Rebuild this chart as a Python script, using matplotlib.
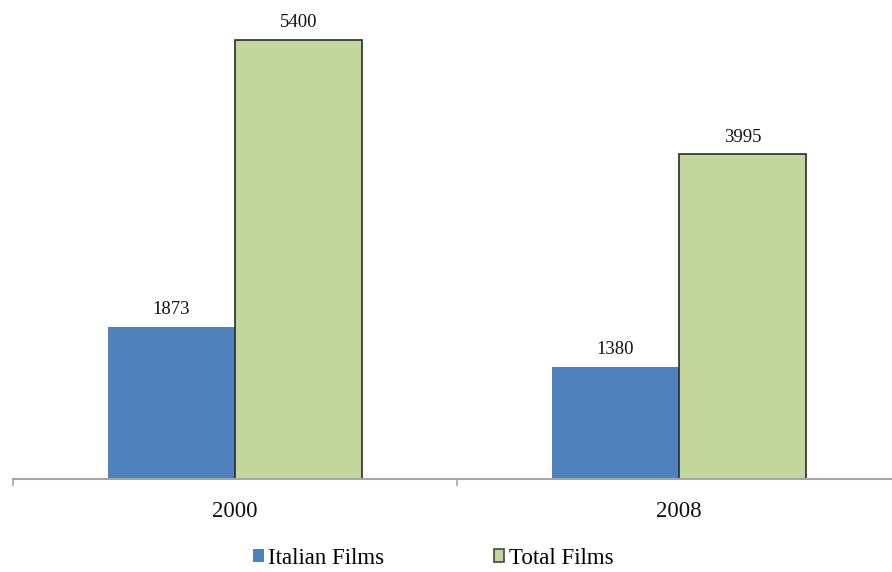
import matplotlib.pyplot as plt
from matplotlib.patches import Patch
import numpy as np

years = ["2000", "2008"]
italian_films = [1873, 1380]
total_films = [5400, 3995]
series_names = ["Italian Films", "Total Films"]

plt.rcParams['font.family'] = ['Liberation Serif', 'DejaVu Serif']

fig = plt.figure(figsize=(8.92, 5.72), dpi=100)
ax = fig.add_axes([13 / 892, 93 / 572, 888 / 892, 488 / 572])

x = np.arange(len(years))
w = 0.286
blue = "#4F81BD"
green = "#C3D69B"

b1 = ax.bar(x - w / 2, italian_films, w, color=blue, edgecolor="none")
b2 = ax.bar(x + w / 2, total_films, w, color=green, edgecolor="#2b2b2b", linewidth=1.2)

for bars, vals in ((b1, italian_films), (b2, total_films)):
    for r, v in zip(bars, vals):
        ax.annotate(str(v), (r.get_x() + r.get_width() / 2, v), xytext=(0, 6),
                    textcoords="offset points", ha="center", va="bottom",
                    fontsize=13.5, color="#111111")

ax.set_xlim(-0.5, 1.5)
ax.set_ylim(0, 6000)
for s in ("top", "right", "left"):
    ax.spines[s].set_visible(False)
ax.spines["bottom"].set_color("#a6a6a6")
ax.spines["bottom"].set_linewidth(1.5)
ax.set_yticks([])
ax.set_xticks(x)
ax.set_xticklabels(years, fontsize=16.5, color="#111111")
ax.tick_params(axis="x", which="major", length=0, pad=16)
ax.set_xticks([-0.5, 0.5, 1.5], minor=True)
ax.tick_params(axis="x", which="minor", length=5, color="#a6a6a6", width=1.2)

handles = [Patch(facecolor=blue, edgecolor="none"),
           Patch(facecolor=green, edgecolor="#444444", linewidth=1.2)]
fig.legend(handles, series_names, loc="center", bbox_to_anchor=(0.4858, 0.024),
           ncol=2, frameon=False, fontsize=16.5, handlelength=0.45, handleheight=0.45,
           handletextpad=0.2, columnspacing=4.78)

fig.savefig("out.png", dpi=100)
